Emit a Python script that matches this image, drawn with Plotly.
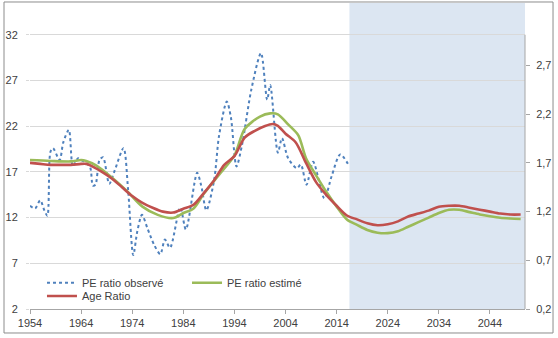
import plotly.graph_objects as go

# ---- data ----
obs_years = [1954.0, 1955.0, 1956.0, 1956.8, 1957.4, 1958.0, 1958.5, 1959.8, 1960.5, 1961.6,
             1962.4, 1963.4, 1964.0, 1965.7, 1966.3, 1966.8, 1967.6, 1968.3, 1969.5, 1970.6,
             1972.3, 1973.2, 1974.2, 1975.0, 1975.9, 1977.0, 1978.3, 1979.5, 1980.4, 1981.4,
             1983.4, 1984.5, 1986.7, 1987.5, 1988.5, 1990.0, 1991.0, 1992.5, 1993.3, 1994.4,
             1995.5, 1997.3, 1999.2, 2000.4, 2001.0, 2002.5, 2003.3, 2004.5, 2006.2, 2007.0,
             2008.1, 2009.4, 2011.6, 2013.0, 2014.7, 2016.5]
obs_pe = [13.3, 13.0, 13.9, 12.8, 12.2, 19.2, 19.6, 18.3, 20.2, 21.6,
          17.6, 18.5, 18.3, 17.6, 15.5, 15.6, 18.3, 18.6, 15.7, 17.2,
          19.6, 15.0, 7.9, 10.5, 12.3, 10.8, 9.0, 8.0, 9.6, 8.7,
          13.1, 10.7, 16.9, 15.5, 12.8, 16.0, 21.0, 24.7, 23.0, 17.6,
          20.0, 26.0, 30.0, 24.9, 26.5, 19.1, 20.7, 18.5, 17.4, 17.8,
          15.6, 18.1, 14.1, 16.5, 18.9, 17.6]

est_years = [1954, 1958, 1962, 1964, 1965, 1967, 1970, 1973, 1976, 1979,
             1982, 1984, 1986, 1988, 1991, 1994, 1996, 1999, 2001, 2002.5,
             2004.5, 2006.5, 2008, 2010, 2012, 2014, 2016, 2018, 2020, 2022,
             2024, 2026, 2028, 2030, 2032, 2034, 2036, 2038, 2040, 2042,
             2044, 2046, 2048, 2050]
est_pe = [18.3, 18.2, 18.15, 18.3, 18.2, 17.7, 16.4, 14.9, 13.2, 12.3,
          11.95, 12.5, 13.0, 14.6, 16.7, 18.8, 21.7, 23.05, 23.4, 23.3,
          22.2, 21.0, 18.5, 16.6, 14.8, 13.2, 11.8, 11.2, 10.65, 10.35,
          10.3, 10.5, 11.0, 11.5, 12.0, 12.5, 12.85, 12.85, 12.6, 12.35,
          12.15, 11.98, 11.9, 11.85]

age_years = [1954, 1956, 1958, 1960, 1962, 1964, 1965, 1966, 1968, 1970,
             1972, 1974, 1976, 1978, 1980, 1982, 1984, 1986, 1988, 1990,
             1992, 1994, 1996, 1998, 2000, 2001.5, 2002.5, 2004, 2006, 2008,
             2010, 2012, 2014, 2016, 2018, 2020, 2022, 2024, 2026, 2028,
             2030, 2032, 2034, 2036, 2038, 2040, 2042, 2044, 2046, 2048, 2050]
age_ratio = [1.70, 1.69, 1.68, 1.68, 1.68, 1.69, 1.69, 1.67, 1.61, 1.54,
             1.45, 1.36, 1.29, 1.24, 1.20, 1.19, 1.23, 1.27, 1.39, 1.52,
             1.68, 1.77, 1.96, 2.03, 2.08, 2.10, 2.08, 2.00, 1.91, 1.70,
             1.50, 1.37, 1.26, 1.16, 1.12, 1.08, 1.06, 1.07, 1.10, 1.15,
             1.18, 1.21, 1.25, 1.26, 1.26, 1.24, 1.22, 1.20, 1.18, 1.17, 1.17]

x_ticks = [1954, 1964, 1974, 1984, 1994, 2004, 2014, 2024, 2034, 2044]
left_ticks = [2, 7, 12, 17, 22, 27, 32]
right_ticks = [0.2, 0.7, 1.2, 1.7, 2.2, 2.7]
projection_start = 2016.5

BLUE = "#4F81BD"
GREEN = "#9BBB59"
RED = "#C0504D"
TXT = "#404040"
FONT = "Liberation Sans"

fig = go.Figure()
fig.add_trace(go.Scatter(
    x=obs_years, y=obs_pe, name="PE ratio observé", mode="lines",
    line=dict(color=BLUE, width=2, dash="dot", shape="spline", smoothing=0.8),
    legend="legend"))
fig.add_trace(go.Scatter(
    x=est_years, y=est_pe, name="PE ratio estimé", mode="lines",
    line=dict(color=GREEN, width=2.6, shape="spline", smoothing=0.8),
    legend="legend2"))
fig.add_trace(go.Scatter(
    x=age_years, y=age_ratio, name="Age Ratio", mode="lines", yaxis="y2",
    line=dict(color=RED, width=2.6, shape="spline", smoothing=0.8),
    legend="legend3"))

shapes = [
    # projection shading
    dict(type="rect", xref="x", yref="paper", x0=projection_start, x1=2050.85,
         y0=0, y1=1, fillcolor="#DCE6F2", line=dict(width=0), layer="below"),
    # right axis line
    dict(type="line", xref="paper", yref="y", x0=1, x1=1, y0=2, y1=32,
         line=dict(color="#A6A6A6", width=1), layer="above"),
    # chart border
    dict(type="rect", xref="paper", yref="paper", x0=-0.0525, x1=1.0566,
         y0=-0.0784, y1=1.0033, line=dict(color="#8C8C8C", width=1),
         fillcolor="rgba(0,0,0,0)", layer="above"),
]

leg_common = dict(orientation="h", bgcolor="rgba(0,0,0,0)", borderwidth=0,
                  font=dict(family=FONT, size=11, color=TXT),
                  xanchor="left", yanchor="middle", itemwidth=30)

fig.update_layout(
    width=558, height=338,
    margin=dict(l=30, r=33, t=3, b=29),
    paper_bgcolor="white", plot_bgcolor="white",
    separators=", ",
    font=dict(family=FONT, size=11, color=TXT),
    showlegend=True,
    legend=dict(x=0.0242, y=0.0859, **leg_common),
    legend2=dict(x=0.3172, y=0.0859, **leg_common),
    legend3=dict(x=0.0242, y=0.0425, **leg_common),
    xaxis=dict(range=[1954, 2050.85], tickvals=x_ticks, showgrid=False,
               showline=True, linecolor="#A6A6A6", linewidth=1,
               ticks="outside", ticklen=4, tickcolor="#A6A6A6",
               tickfont=dict(family=FONT, size=11, color=TXT), zeroline=False),
    yaxis=dict(range=[2, 35.48], tickvals=left_ticks, showgrid=True,
               gridcolor="#D9D9D9", gridwidth=1, showline=False,
               ticks="outside", ticklen=3, tickcolor="#D9D9D9",
               ticklabelstandoff=6,
               tickfont=dict(family=FONT, size=11, color=TXT), zeroline=False),
    yaxis2=dict(range=[0.2, 3.342], tickvals=right_ticks, overlaying="y",
                side="right", showgrid=False, showline=False,
                ticks="outside", ticklen=4, tickcolor="#A6A6A6",
                ticklabelstandoff=4, tickformat=".1f",
                tickfont=dict(family=FONT, size=11, color=TXT), zeroline=False),
    shapes=shapes,
)

fig.write_html("out.html")
